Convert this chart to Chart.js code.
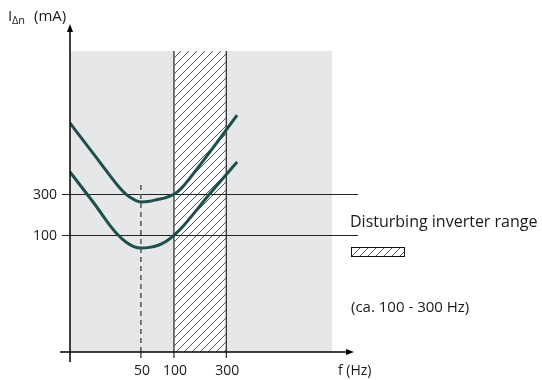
<!DOCTYPE html>
<html>
<head>
<meta charset="utf-8">
<script src="https://cdn.jsdelivr.net/npm/chart.js@4"></script>
<style>
  html, body { margin: 0; padding: 0; background: #fff; }
  #wrap { width: 542px; height: 380px; position: relative; }
</style>
</head>
<body>
<div id="wrap"><canvas id="chart" width="542" height="380"></canvas></div>
<script>
// values
const freqTicks = [50, 100, 300];            // Hz
const currentTicks = [100, 300];              // mA
const inverterRange = [100, 300];             // Hz, hatched band
const bgFreqMax = 2750;                       // grey field ends here
const upperFreq = [11.3, 19.5, 31, 36.5, 43, 50, 60, 71, 83, 100, 116, 140, 213, 376];
const upperCurrent = [648, 482, 341, 301, 275, 263, 266, 275, 283, 300, 328, 380, 507, 687];
const lowerFreq = [11.3, 19.5, 26, 31, 36.5, 43, 50, 60, 71, 83, 100, 116, 140, 213, 376];
const lowerCurrent = [409, 243, 150, 101, 67, 45, 38, 41, 50, 67, 100, 133, 184, 304, 458];
const markerFreq = 50;
const markerTop = 355;

const FONT = "'Open Sans', 'DejaVu Sans', sans-serif";
const TEAL = "#1d4f4c";

const toPoints = (xs, ys) => xs.map((x, i) => ({ x: x, y: ys[i] }));

// hatch pattern
function hatchPattern(ctx) {
  const c = document.createElement("canvas");
  c.width = 8; c.height = 8;
  const p = c.getContext("2d");
  p.strokeStyle = "#555";
  p.lineWidth = 1;
  p.beginPath();
  p.moveTo(0, 8); p.lineTo(8, 0);
  p.moveTo(-1, 1); p.lineTo(1, -1);
  p.moveTo(7, 9); p.lineTo(9, 7);
  p.stroke();
  return ctx.createPattern(c, "repeat");
}

const backdrop = {
  id: "backdrop",
  beforeDatasetsDraw(chart) {
    const { ctx, chartArea: a, scales: { x, y } } = chart;
    ctx.save();
    // grey field
    ctx.fillStyle = "#e6e7e8";
    ctx.fillRect(a.left, a.top, x.getPixelForValue(bgFreqMax) - a.left, a.bottom - a.top);
    // hatched band
    const x0 = x.getPixelForValue(inverterRange[0]);
    const x1 = x.getPixelForValue(inverterRange[1]);
    ctx.fillStyle = "#fff";
    ctx.fillRect(x0, a.top, x1 - x0, a.bottom - a.top);
    ctx.fillStyle = hatchPattern(ctx);
    ctx.fillRect(x0, a.top, x1 - x0, a.bottom - a.top);
    ctx.strokeStyle = "#333";
    ctx.lineWidth = 1.3;
    ctx.beginPath();
    ctx.moveTo(x0, a.top); ctx.lineTo(x0, a.bottom);
    ctx.moveTo(x1, a.top); ctx.lineTo(x1, a.bottom);
    ctx.stroke();
    // reference lines
    ctx.strokeStyle = "#222";
    ctx.lineWidth = 1.2;
    currentTicks.forEach(v => {
      const py = Math.round(y.getPixelForValue(v)) + 0.5;
      ctx.beginPath();
      ctx.moveTo(a.left - 8, py); ctx.lineTo(a.right, py);
      ctx.stroke();
    });
    ctx.restore();
  },
  afterDraw(chart) {
    const { ctx, chartArea: a, scales: { x, y } } = chart;
    ctx.save();
    ctx.strokeStyle = "#000";
    ctx.fillStyle = "#000";
    ctx.lineWidth = 1.5;
    // y axis + arrow
    ctx.beginPath();
    ctx.moveTo(a.left, a.bottom + 10); ctx.lineTo(a.left, 30);
    ctx.stroke();
    ctx.beginPath();
    ctx.moveTo(a.left, 24); ctx.lineTo(a.left - 3, 32); ctx.lineTo(a.left + 3, 32);
    ctx.closePath(); ctx.fill();
    // x axis + arrow
    ctx.beginPath();
    ctx.moveTo(a.left - 10, a.bottom); ctx.lineTo(348, a.bottom);
    ctx.stroke();
    ctx.beginPath();
    ctx.moveTo(354, a.bottom); ctx.lineTo(346, a.bottom - 3); ctx.lineTo(346, a.bottom + 3);
    ctx.closePath(); ctx.fill();
    // x ticks
    ctx.lineWidth = 1.2;
    ctx.strokeStyle = "#222";
    freqTicks.forEach(v => {
      const px = x.getPixelForValue(v);
      ctx.beginPath();
      ctx.moveTo(px, a.bottom); ctx.lineTo(px, a.bottom + 6);
      ctx.stroke();
    });
    // labels
    ctx.fillStyle = "#1a1a1a";
    ctx.font = "14px " + FONT;
    ctx.textAlign = "center";
    ctx.textBaseline = "alphabetic";
    freqTicks.forEach(v => ctx.fillText(String(v), x.getPixelForValue(v) + 1, 375));
    ctx.textAlign = "right";
    ctx.textBaseline = "middle";
    currentTicks.forEach(v => ctx.fillText(String(v), 57, y.getPixelForValue(v) + 1));
    ctx.textAlign = "left";
    ctx.textBaseline = "alphabetic";
    ctx.fillText("f (Hz)", 338, 375);
    // y title
    ctx.font = "15px " + FONT;
    ctx.fillText("I", 8, 21);
    ctx.fillText("(mA)", 34, 21);
    ctx.font = "11px " + FONT;
    ctx.fillText("\u0394n", 12, 24);
    // legend
    ctx.font = "16px " + FONT;
    ctx.fillText("Disturbing inverter range", 350, 227);
    ctx.fillStyle = "#fff";
    ctx.fillRect(351, 247, 54, 9);
    ctx.fillStyle = hatchPattern(ctx);
    ctx.fillRect(351, 247, 54, 9);
    ctx.strokeStyle = "#111";
    ctx.lineWidth = 1;
    ctx.strokeRect(351.5, 247.5, 53, 9);
    ctx.fillStyle = "#1a1a1a";
    ctx.font = "15px " + FONT;
    ctx.fillText("(ca. 100 - 300 Hz)", 351, 312);
    ctx.restore();
  }
};

new Chart(document.getElementById("chart"), {
  type: "line",
  data: {
    datasets: [
      {
        data: toPoints([markerFreq, markerFreq], [-470, markerTop]),
        borderColor: "#555",
        borderWidth: 1.5,
        borderDash: [5, 4],
        pointRadius: 0,
        tension: 0
      },
      {
        data: toPoints(upperFreq, upperCurrent),
        borderColor: TEAL,
        borderWidth: 3,
        pointRadius: 0,
        cubicInterpolationMode: "monotone"
      },
      {
        data: toPoints(lowerFreq, lowerCurrent),
        borderColor: TEAL,
        borderWidth: 3,
        pointRadius: 0,
        cubicInterpolationMode: "monotone"
      }
    ]
  },
  options: {
    responsive: false,
    animation: false,
    layout: { padding: { left: 70, right: 184, top: 51, bottom: 28 } },
    plugins: { legend: { display: false }, tooltip: { enabled: false } },
    scales: {
      x: { type: "logarithmic", min: 11.3, max: 4750, display: false },
      y: { type: "linear", min: -470, max: 1000, display: false }
    }
  },
  plugins: [backdrop]
});
</script>
</body>
</html>
